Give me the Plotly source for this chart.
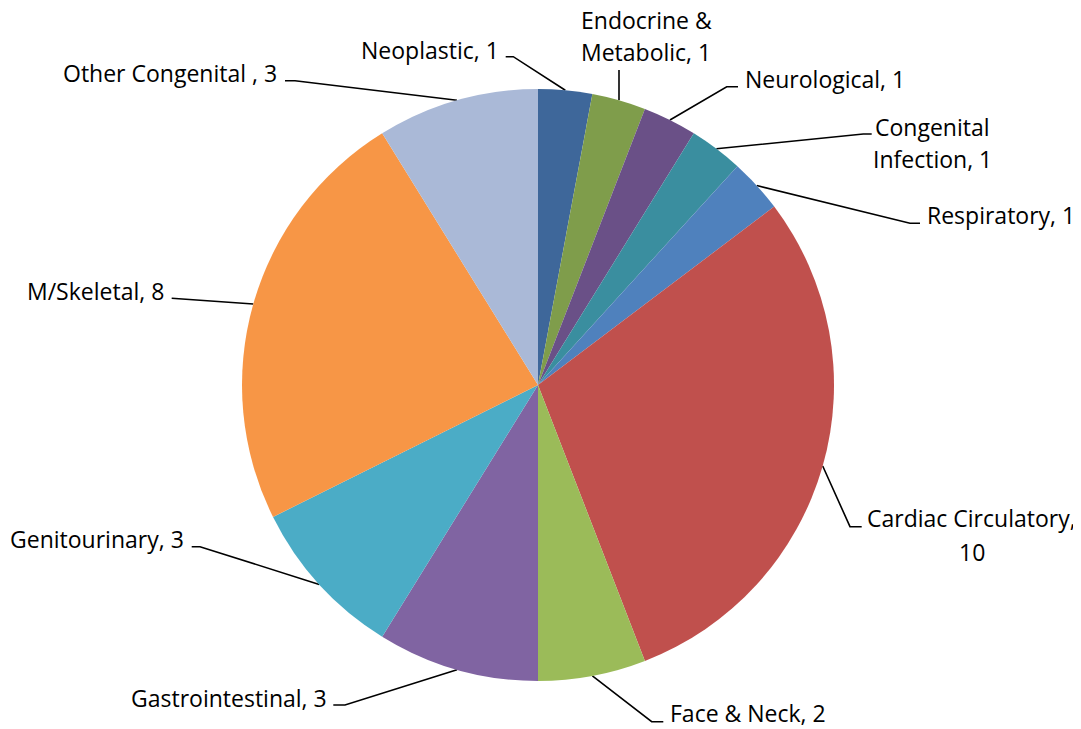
import numpy as np
import plotly.graph_objects as go

W, H = 1081, 729
OFF = 8                             # page body margin in the browser
CX, CY, R = 538, 385, 296          # pie centre / radius in screen pixels

CATEGORIES = ["Neoplastic", "Endocrine & Metabolic", "Neurological", "Congenital Infection",
              "Respiratory", "Cardiac Circulatory", "Face & Neck", "Gastrointestinal",
              "Genitourinary", "M/Skeletal", "Other Congenital "]
VALUES = [1, 1, 1, 1, 1, 10, 2, 3, 3, 8, 3]
LABEL_LINES = [
    ["Neoplastic, 1"],
    ["Endocrine &", "Metabolic, 1"],
    ["Neurological, 1"],
    ["Congenital", "Infection, 1"],
    ["Respiratory, 1"],
    ["Cardiac Circulatory,", "10"],
    ["Face & Neck, 2"],
    ["Gastrointestinal, 3"],
    ["Genitourinary, 3"],
    ["M/Skeletal, 8"],
    ["Other Congenital , 3"],
]
COLORS = ["#3E679A", "#7F9D4B", "#6A5087", "#3A8E9F", "#4F81BD", "#C0504D",
          "#9BBB59", "#8064A2", "#4BACC6", "#F79646", "#AAB9D7"]

# label placement (screen pixels): text x, anchor, per-line y, leader elbow, leader tail
LABEL_POS = [
    dict(x=500, anchor="right", ys=[50], elbow=(513.3, 56.7), tail=(505.7, 56.7)),
    dict(x=646, anchor="center", ys=[20, 52], elbow=(619, 70), tail=(619, 70)),
    dict(x=744, anchor="left", ys=[79], elbow=(726.7, 86.7), tail=(738, 86.7)),
    dict(x=932, anchor="center", ys=[126.5, 159], elbow=(863.3, 134), tail=(871.7, 134)),
    dict(x=925.7, anchor="left", ys=[215], elbow=(910, 223.3), tail=(920, 223.3)),
    dict(x=971.7, anchor="center", ys=[518, 551.7], elbow=(850, 526.7), tail=(861.7, 526.7)),
    dict(x=669.3, anchor="left", ys=[713], elbow=(651.7, 721.7), tail=(663.3, 721.7)),
    dict(x=328.3, anchor="right", ys=[697.5], elbow=(345, 705), tail=(333.3, 705)),
    dict(x=185, anchor="right", ys=[539], elbow=(200, 546.7), tail=(191.7, 546.7)),
    dict(x=165, anchor="right", ys=[291], elbow=(180, 298.3), tail=(171.7, 298.3)),
    dict(x=278.3, anchor="right", ys=[73], elbow=(295, 80.7), tail=(285, 80.7)),
]
FONT = dict(family="'Open Sans', Lato, sans-serif", size=23, color="#000000")

FW, FH = W - OFF, H - OFF          # figure size so it fits the window after the body margin

fig = go.Figure()
fig.add_trace(go.Pie(
    labels=CATEGORIES, values=VALUES, sort=False, direction="clockwise", rotation=0,
    marker=dict(colors=COLORS, line=dict(width=0)), textinfo="none", showlegend=False,
    domain=dict(x=[(CX - R - OFF) / FW, (CX + R - OFF) / FW],
                y=[1 - (CY + R - OFF) / FH, 1 - (CY - R - OFF) / FH]),
))

# leader lines: slice mid-angle on the rim -> elbow -> short horizontal tail
total = float(sum(VALUES))
mid = (np.cumsum(VALUES) - np.array(VALUES) / 2.0) / total * 2 * np.pi
lx, ly = [], []
for a, pos in zip(mid, LABEL_POS):
    lx += [CX + R * np.sin(a), pos["elbow"][0], pos["tail"][0], None]
    ly += [CY - R * np.cos(a), pos["elbow"][1], pos["tail"][1], None]
fig.add_trace(go.Scatter(x=lx, y=ly, mode="lines", line=dict(color="black", width=1.6),
                         hoverinfo="skip", showlegend=False))

for lines, pos in zip(LABEL_LINES, LABEL_POS):
    for txt, y in zip(lines, pos["ys"]):
        fig.add_annotation(x=pos["x"], y=y, xref="x", yref="y", text=txt, showarrow=False,
                           xanchor=pos["anchor"], yanchor="middle", font=FONT, borderpad=0)

fig.update_xaxes(range=[OFF, W], visible=False, fixedrange=True)
fig.update_yaxes(range=[H, OFF], visible=False, fixedrange=True)
fig.update_layout(width=FW, height=FH, margin=dict(l=0, r=0, t=0, b=0),
                  paper_bgcolor="white", plot_bgcolor="white")
fig.write_html("out.html")
